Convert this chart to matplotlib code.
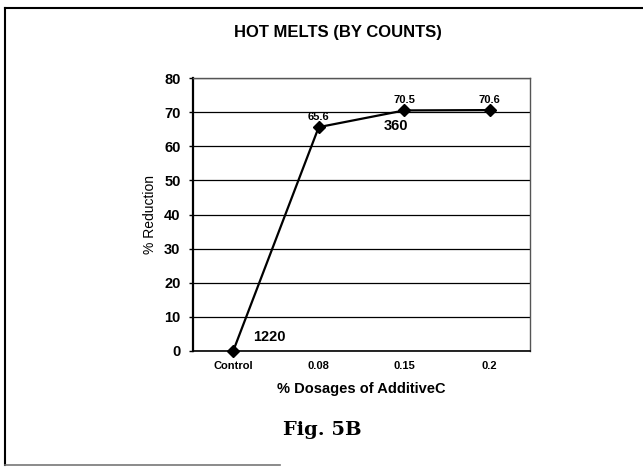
import numpy as np
import matplotlib.pyplot as plt
from matplotlib.lines import Line2D

plt.rcParams['font.family'] = ['Liberation Sans', 'DejaVu Sans']

categorias = ['Control', '0.08', '0.15', '0.2']
reduccion = [0, 65.6, 70.5, 70.6]
etiquetas = ['', '65.6', '70.5', '70.6']
conteos = ['1220', '', '360', '']

W, H = 643, 467
fig = plt.figure(figsize=(W/100, H/100), dpi=100)
ax = fig.add_axes([193/W, 1-351/H, (530-193)/W, (351-78)/H])

x = np.arange(len(categorias))
ax.plot(x, reduccion, color='black', lw=1.6, marker='D', ms=6.5, zorder=3, clip_on=False)

ax.set_xlim(-0.47, 3.47)
ax.set_ylim(0, 80)
ax.set_yticks(np.arange(0, 81, 10))
ax.set_xticks(x)
ax.set_xticklabels(categorias, fontsize=8, fontweight='bold')
ax.tick_params(axis='y', labelsize=10.5, length=3, width=1, pad=6)
for t in ax.get_yticklabels():
    t.set_fontweight('bold')
ax.tick_params(axis='x', length=0, pad=7)
ax.grid(axis='y', color='black', lw=0.9)
ax.set_axisbelow(True)
for s in ['top', 'right']:
    ax.spines[s].set_color('#555555')
    ax.spines[s].set_linewidth(1)
ax.spines['left'].set_linewidth(1.6)
ax.spines['bottom'].set_linewidth(1.2)

ax.set_ylabel('% Reduction', fontsize=10, labelpad=5)
ax.set_xlabel('% Dosages of AdditiveC', fontsize=10.5, fontweight='bold', labelpad=8)

for i in range(len(x)):
    if etiquetas[i]:
        ax.annotate(etiquetas[i], (x[i], reduccion[i]), xytext=(0, 4),
                    textcoords='offset points', ha='center', va='bottom',
                    fontsize=8, fontweight='bold')
ax.annotate(conteos[0], (x[0], reduccion[0]), xytext=(26, 5),
            textcoords='offset points', ha='center', va='bottom',
            fontsize=10.5, fontweight='bold')
ax.annotate(conteos[2], (x[2], reduccion[2]), xytext=(-6, -6),
            textcoords='offset points', ha='center', va='top',
            fontsize=10.5, fontweight='bold')

fig.text(338/W, 1-32/H, 'HOT MELTS (BY COUNTS)', ha='center', va='center',
         fontsize=12, fontweight='bold')
fig.text(322/W, 1-430/H, 'Fig. 5B', ha='center', va='center',
         fontsize=14, fontweight='bold', family=['DejaVu Serif'])

# marco exterior
fig.add_artist(Line2D([5/W, 5/W], [1-8/H, 1-465/H], color='black', lw=1.5))
fig.add_artist(Line2D([5/W, 1], [1-8/H, 1-8/H], color='black', lw=1.5))
fig.add_artist(Line2D([5/W, 280/W], [1-465/H, 1-465/H], color='#777777', lw=1.2))

plt.savefig('out.png', dpi=100)
